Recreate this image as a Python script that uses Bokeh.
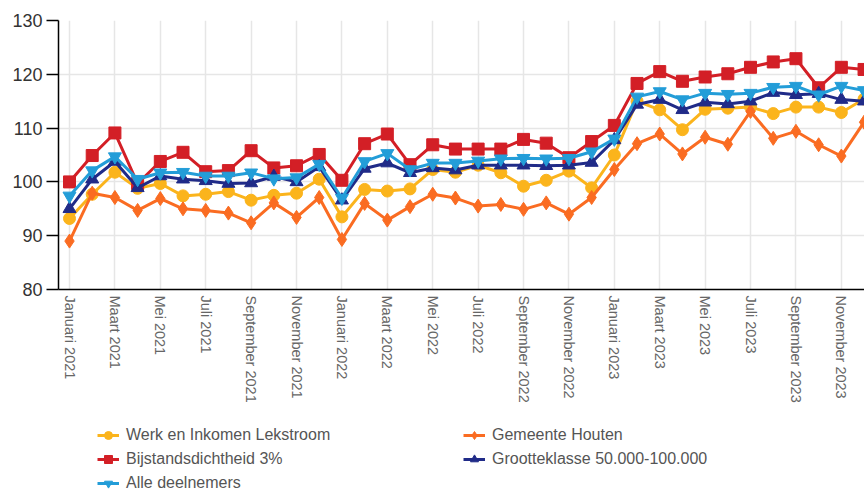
import math
from bokeh.plotting import figure
from bokeh.layouts import column
from bokeh.models import FixedTicker, Legend, LegendItem, Range1d
from bokeh.embed import file_html
from bokeh.resources import INLINE

months = ["Januari", "Februari", "Maart", "April", "Mei", "Juni", "Juli",
          "Augustus", "September", "Oktober", "November", "December"]
years = [2021, 2022, 2023]
periods = [f"{m} {y}" for y in years for m in months]
x = list(range(len(periods)))

werk_lekstroom = [93.2, 97.7, 101.8, 98.8, 99.7, 97.4, 97.7, 98.2, 96.6, 97.5, 97.9, 100.5,
                  93.5, 98.6, 98.3, 98.7, 102.3, 101.8, 103.1, 101.7, 99.2, 100.3, 102.0, 98.9,
                  105.0, 115.0, 113.4, 109.7, 113.5, 113.7, 113.9, 112.7, 113.9, 113.9, 112.9, 115.4]
gemeente_houten = [89.0, 97.9, 97.1, 94.7, 96.9, 95.0, 94.7, 94.2, 92.4, 96.1, 93.4, 97.1,
                   89.3, 96.0, 92.9, 95.4, 97.7, 97.0, 95.5, 95.8, 94.9, 96.1, 94.0, 97.1,
                   102.3, 107.1, 108.9, 105.2, 108.3, 107.0, 113.1, 108.1, 109.4, 106.9, 104.8, 111.1]
bijstand_3 = [100.0, 104.9, 109.1, 99.7, 103.8, 105.5, 101.9, 102.1, 105.8, 102.6, 103.0, 105.1,
              100.3, 107.1, 108.9, 103.2, 106.9, 106.1, 106.1, 106.1, 107.9, 107.2, 104.5, 107.5,
              110.5, 118.3, 120.5, 118.7, 119.5, 120.1, 121.3, 122.3, 122.9, 117.5, 121.3, 120.9]
grootteklasse = [95.0, 100.5, 103.8, 98.9, 101.1, 100.5, 100.2, 99.7, 99.8, 101.0, 100.0, 102.8,
                 96.6, 102.5, 103.5, 101.7, 102.6, 102.2, 103.1, 103.1, 103.1, 103.0, 103.1, 103.6,
                 107.8, 114.4, 115.3, 113.4, 114.8, 114.5, 115.0, 116.6, 116.2, 116.4, 115.3, 115.0]
alle_deelnemers = [97.4, 102.1, 104.7, 100.5, 101.7, 101.8, 101.1, 101.1, 101.7, 100.6, 100.8, 103.3,
                   97.0, 103.8, 105.3, 102.3, 103.5, 103.5, 103.9, 104.3, 104.4, 104.3, 104.4, 105.6,
                   108.0, 115.8, 116.8, 115.3, 116.5, 116.3, 116.5, 117.6, 117.8, 116.2, 117.8, 117.0]

y_ticks = [80, 90, 100, 110, 120, 130]
x_ticks = x[::2]

series = [
    ("Werk en Inkomen Lekstroom", werk_lekstroom, "#fbb41c", "circle", 12),
    ("Gemeente Houten", gemeente_houten, "#fa6c22", "diamond", 14),
    ("Bijstandsdichtheid 3%", bijstand_3, "#d31f26", "square", 12),
    ("Grootteklasse 50.000-100.000", grootteklasse, "#202b88", "triangle", 13),
    ("Alle deelnemers", alle_deelnemers, "#239dd8", "inverted_triangle", 13),
]

FONT = "Liberation Sans"
W = 864
H_MAIN = 415
H_LEG = 78

p = figure(width=W, height=H_MAIN, output_backend="svg", toolbar_location=None,
           x_range=Range1d(-0.485, 35.02), y_range=Range1d(80, 130),
           min_border_left=58, min_border_right=0, min_border_top=20, min_border_bottom=126)
p.outline_line_color = None

for name, vals, color, marker, size in series:
    p.line(x, vals, line_color=color, line_width=3)
    p.scatter(x, vals, marker=marker, size=size, fill_color=color, line_color=color)

# axes
p.yaxis.ticker = FixedTicker(ticks=y_ticks)
p.yaxis.major_label_text_font = FONT
p.yaxis.major_label_text_font_size = "18px"
p.yaxis.major_label_text_color = "#333333"
p.yaxis.axis_line_color = "black"
p.yaxis.axis_line_width = 1.5
p.yaxis.major_tick_line_color = "black"
p.yaxis.major_tick_line_width = 1.5
p.yaxis.major_tick_out = 12
p.yaxis.major_tick_in = 0
p.yaxis.minor_tick_line_color = None
p.yaxis.major_label_standoff = 4

p.xaxis.ticker = FixedTicker(ticks=x_ticks)
p.xaxis.major_label_overrides = {i: periods[i] for i in x_ticks}
p.xaxis.major_label_orientation = -math.pi / 2
p.xaxis.major_label_text_font = FONT
p.xaxis.major_label_text_font_size = "14.5px"
p.xaxis.major_label_text_color = "#666666"
p.xaxis.axis_line_color = "black"
p.xaxis.axis_line_width = 1.5
p.xaxis.major_tick_line_color = None
p.xaxis.major_tick_out = 0
p.xaxis.major_tick_in = 0
p.xaxis.minor_tick_line_color = None
p.xaxis.major_label_standoff = 6

p.xgrid.grid_line_color = "#e6e6e6"
p.xgrid.grid_line_width = 1.5
p.ygrid.grid_line_color = "#e6e6e6"
p.ygrid.grid_line_width = 1.5

# legend strip below the chart (proxy glyphs kept outside the visible range)
pl = figure(width=W, height=H_LEG, output_backend="svg", toolbar_location=None,
            x_range=Range1d(0, 1), y_range=Range1d(0, 1),
            x_axis_type=None, y_axis_type=None,
            min_border_left=0, min_border_right=0, min_border_top=0, min_border_bottom=0)
pl.outline_line_color = None
pl.xgrid.visible = False
pl.ygrid.visible = False

items = {}
for name, vals, color, marker, size in series:
    ln = pl.line([-5, -4], [-5, -5], line_color=color, line_width=3)
    sc = pl.scatter([-5], [-5], marker=marker, size=size, fill_color=color, line_color=color)
    items[name] = LegendItem(label=name, renderers=[ln, sc])


def make_legend(names, loc):
    return Legend(items=[items[n] for n in names], location=loc,
                  orientation="vertical", padding=0, margin=0, spacing=4,
                  glyph_width=22, glyph_height=20, label_height=20, label_standoff=7,
                  label_text_font=FONT, label_text_font_size="16px",
                  label_text_color="#555555",
                  background_fill_alpha=0, border_line_color=None)


pl.add_layout(make_legend(["Werk en Inkomen Lekstroom", "Bijstandsdichtheid 3%", "Alle deelnemers"], (39, 0)))
pl.add_layout(make_legend(["Gemeente Houten", "Grootteklasse 50.000-100.000"], (405, 24)))

layout = column(p, pl, spacing=0)
open("out.html", "w").write(file_html(layout, INLINE))
